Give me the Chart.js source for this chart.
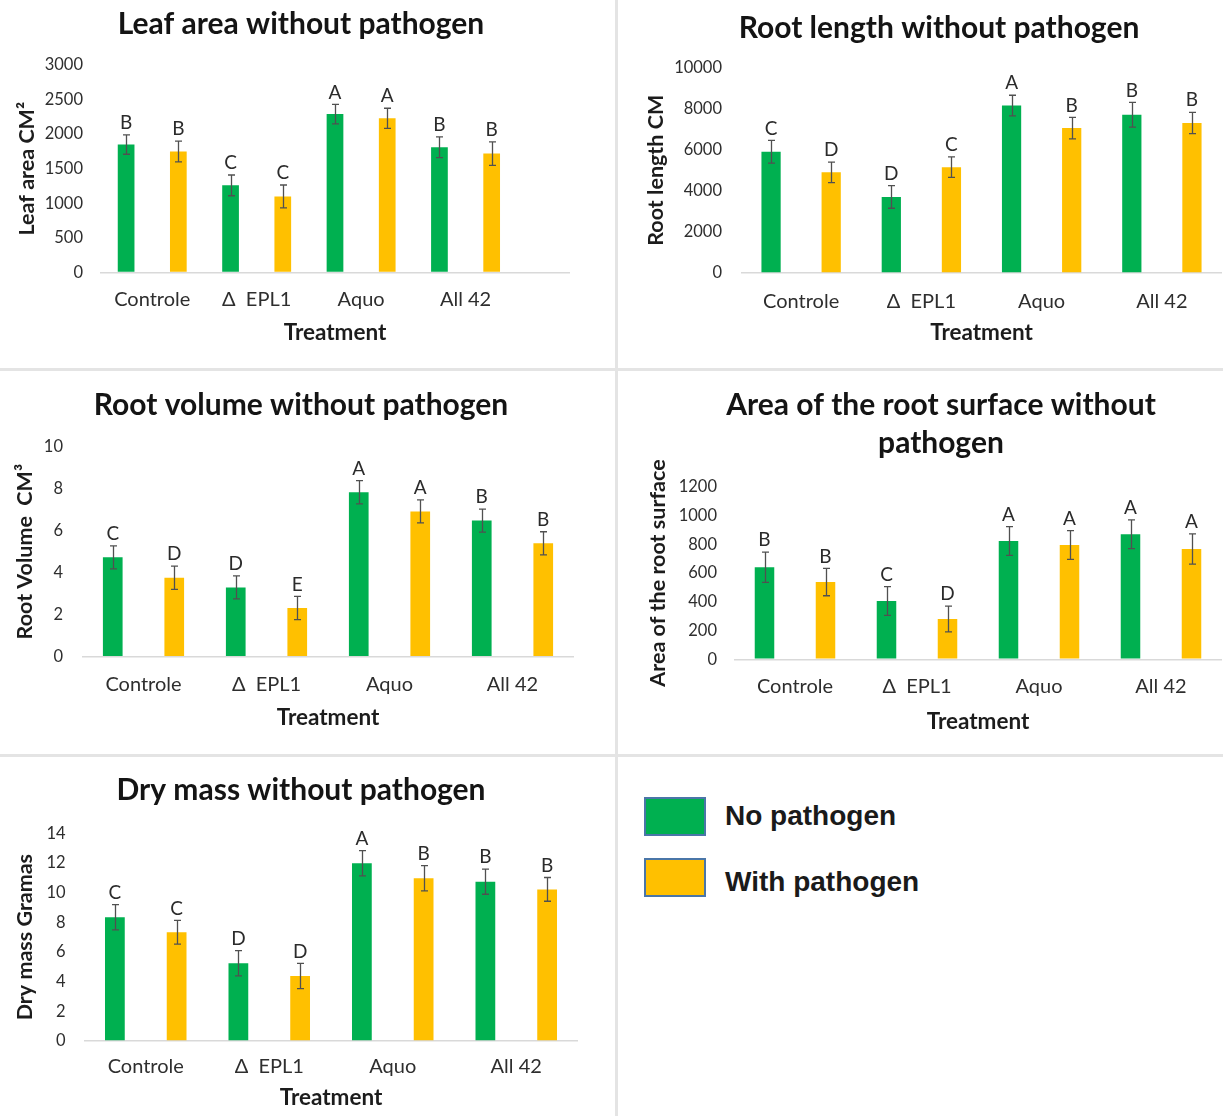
<!DOCTYPE html>
<html>
<head>
<meta charset="utf-8">
<script src="https://cdn.jsdelivr.net/npm/chart.js@4.4.1/dist/chart.umd.min.js"></script>
<style>
  html, body { margin: 0; padding: 0; background: #fff; width: 1223px; height: 1116px; overflow: hidden; }
  canvas { position: absolute; }
  .line { position: absolute; background: #e4e4e4; z-index: 5; }
  .sw { position: absolute; box-sizing: border-box; border: 2px solid #4a76a8; width: 62px; height: 39px; left: 644px; }
  .lt { position: absolute; left: 725px; font-family: "Liberation Sans", Arial, sans-serif; font-weight: bold; font-size: 28px; color: #1a1a1a; line-height: 34px; }
</style>
</head>
<body>
<canvas id="c1"></canvas>
<canvas id="c2"></canvas>
<canvas id="c3"></canvas>
<canvas id="c4"></canvas>
<canvas id="c5"></canvas>

<div class="line" style="left:615px;top:0;width:3px;height:1116px"></div>
<div class="line" style="left:0;top:368px;width:1223px;height:3px"></div>
<div class="line" style="left:0;top:754px;width:1223px;height:3px"></div>

<div class="sw" style="top:797px;background:#00b050"></div>
<div class="lt" style="top:799px">No pathogen</div>
<div class="sw" style="top:858px;background:#ffc000"></div>
<div class="lt" style="top:865px">With pathogen</div>

<script>
// ---------------- DATA ----------------
const categories = ['Controle', 'Δ  EPL1', 'Aquo', 'All 42'];
const seriesLabels = ['No pathogen', 'With pathogen'];
const xTitle = 'Treatment';

// Leaf area
const leafTitle = ['Leaf area without pathogen'];
const leafYTitle = 'Leaf area CM²';
const leafNo = [1850, 1260, 2290, 1810];
const leafWith = [1750, 1100, 2230, 1720];
const leafErrNo = [140, 150, 140, 150];
const leafErrWith = [150, 165, 145, 170];
const leafLetNo = ['B', 'C', 'A', 'B'];
const leafLetWith = ['B', 'C', 'A', 'B'];
const leafTicks = [0, 500, 1000, 1500, 2000, 2500, 3000];

// Root length
const lenTitle = ['Root length without pathogen'];
const lenYTitle = 'Root length CM';
const lenNo = [5900, 3700, 8150, 7700];
const lenWith = [4900, 5150, 7050, 7300];
const lenErrNo = [550, 550, 500, 600];
const lenErrWith = [500, 500, 520, 520];
const lenLetNo = ['C', 'D', 'A', 'B'];
const lenLetWith = ['D', 'C', 'B', 'B'];
const lenTicks = [0, 2000, 4000, 6000, 8000, 10000];

// Root volume
const volTitle = ['Root volume without pathogen'];
const volYTitle = 'Root Volume  CM³';
const volNo = [4.73, 3.30, 7.83, 6.48];
const volWith = [3.76, 2.32, 6.92, 5.40];
const volErrNo = [0.55, 0.55, 0.55, 0.55];
const volErrWith = [0.55, 0.55, 0.55, 0.55];
const volLetNo = ['C', 'D', 'A', 'B'];
const volLetWith = ['D', 'E', 'A', 'B'];
const volTicks = [0, 2, 4, 6, 8, 10];

// Root surface area
const surfTitle = ['Area of the root surface without', 'pathogen'];
const surfYTitle = 'Area of the root surface';
const surfNo = [640, 405, 822, 869];
const surfWith = [537, 280, 795, 767];
const surfErrNo = [105, 100, 100, 100];
const surfErrWith = [95, 90, 100, 105];
const surfLetNo = ['B', 'C', 'A', 'A'];
const surfLetWith = ['B', 'D', 'A', 'A'];
const surfTicks = [0, 200, 400, 600, 800, 1000, 1200];

// Dry mass
const dryTitle = ['Dry mass without pathogen'];
const dryYTitle = 'Dry mass Gramas';
const dryNo = [8.34, 5.24, 11.98, 10.74];
const dryWith = [7.33, 4.38, 10.97, 10.22];
const dryErrNo = [0.85, 0.85, 0.85, 0.85];
const dryErrWith = [0.8, 0.85, 0.85, 0.8];
const dryLetNo = ['C', 'D', 'A', 'B'];
const dryLetWith = ['C', 'D', 'B', 'B'];
const dryTicks = [0, 2, 4, 6, 8, 10, 12, 14];

// ---------------- STYLE / LAYOUT ----------------
const FONT = 'Lato, "Open Sans", sans-serif';
const COLORS = ['#00b050', '#ffc000'];
const SZ = { title: 30, yTitle: 21.5, tick: 16.5, xTick: 20, xTitle: 22.5, letter: 19 };

const layouts = {
  c1: { X0: 0,   Y0: 0,   W: 602, H: 367, l: 100, r: 570,  t: 65,    b: 272.5, titleCy: 24.5, titleLH: 36, yTickRight: 83,  yTitleCx: 27,  xTickCy: 300,   xTitleCy: 333,   xMax: 4.0 },
  c2: { X0: 617, Y0: 0,   W: 644, H: 367, l: 741, r: 1222, t: 67.5,  b: 273,   titleCy: 28,   titleLH: 36, yTickRight: 722, yTitleCx: 656, xTickCy: 302,   xTitleCy: 333,   xMax: 3.5 },
  c3: { X0: 0,   Y0: 371, W: 602, H: 383, l: 82,  r: 574,  t: 446.7, b: 656.7, titleCy: 405,  titleLH: 36, yTickRight: 63,  yTitleCx: 25,  xTickCy: 685,   xTitleCy: 718,   xMax: 3.5 },
  c4: { X0: 617, Y0: 371, W: 648, H: 383, l: 734, r: 1222, t: 486.7, b: 659.3, titleCy: 405,  titleLH: 38, yTickRight: 717, yTitleCx: 658, xTickCy: 686.7, xTitleCy: 721.7, xMax: 3.5 },
  c5: { X0: 0,   Y0: 757, W: 602, H: 359, l: 84,  r: 578,  t: 833.3, b: 1041,  titleCy: 790,  titleLH: 36, yTickRight: 65.6,yTitleCx: 25,  xTickCy: 1066.7,xTitleCy: 1098,  xMax: 3.5 }
};

const errorBarPlugin = {
  id: 'errorBars',
  afterDatasetsDraw(chart) {
    const ctx = chart.ctx;
    const yScale = chart.scales.y;
    ctx.save();
    chart.data.datasets.forEach((ds, di) => {
      const meta = chart.getDatasetMeta(di);
      meta.data.forEach((bar, i) => {
        const v = ds.data[i], e = ds.errors[i];
        const yTop = yScale.getPixelForValue(v + e);
        const yBot = yScale.getPixelForValue(v - e);
        const x = Math.round(bar.x) + 0.5;
        ctx.strokeStyle = '#505050';
        ctx.lineWidth = 1.3;
        ctx.beginPath();
        ctx.moveTo(x, yTop); ctx.lineTo(x, yBot);
        ctx.moveTo(x - 3.5, yTop); ctx.lineTo(x + 3.5, yTop);
        ctx.moveTo(x - 3.5, yBot); ctx.lineTo(x + 3.5, yBot);
        ctx.stroke();
        ctx.fillStyle = '#2b2b2b';
        ctx.font = SZ.letter + 'px ' + FONT;
        ctx.textAlign = 'center';
        ctx.textBaseline = 'middle';
        ctx.fillText(ds.letters[i], bar.x, yTop - 12);
      });
    });
    ctx.restore();
  }
};

function makeChart(id, d) {
  const g = layouts[id];
  const cv = document.getElementById(id);
  cv.width = g.W; cv.height = g.H;
  cv.style.left = g.X0 + 'px';
  cv.style.top = g.Y0 + 'px';
  const nTitle = d.title.length;
  const tPadTop = g.titleCy - g.Y0 - g.titleLH / 2;
  const tPadBottom = (g.t - g.Y0) - tPadTop - nTitle * g.titleLH;
  const yTitleLH = SZ.yTitle * 1.2;
  const xTickLH = SZ.xTick * 1.2;
  const xTitleLH = SZ.xTitle * 1.2;

  return new Chart(cv, {
    type: 'bar',
    data: {
      labels: categories.map((c, i) => i),
      datasets: [
        { label: seriesLabels[0], data: d.no, errors: d.errNo, letters: d.letNo, backgroundColor: COLORS[0] },
        { label: seriesLabels[1], data: d.with, errors: d.errWith, letters: d.letWith, backgroundColor: COLORS[1] }
      ]
    },
    options: {
      responsive: false,
      animation: false,
      events: [],
      barPercentage: 0.32,
      categoryPercentage: 1.0,
      layout: { padding: 0 },
      plugins: {
        legend: { display: false },
        tooltip: { enabled: false },
        title: {
          display: true,
          text: d.title,
          color: '#141414',
          font: { family: FONT, size: SZ.title, weight: 'bold', lineHeight: g.titleLH / SZ.title },
          padding: { top: tPadTop, bottom: tPadBottom }
        }
      },
      scales: {
        x: {
          type: 'linear',
          offset: false,
          min: -0.5,
          max: g.xMax,
          afterBuildTicks: s => { s.ticks = categories.map((c, i) => ({ value: i })); },
          afterFit: s => { s.height = g.Y0 + g.H - g.b; },
          grid: { display: false, drawTicks: false },
          border: { display: false },
          ticks: {
            autoSkip: false, maxRotation: 0, minRotation: 0,
            padding: g.xTickCy - g.b - xTickLH / 2,
            color: '#2e2e2e',
            font: { family: FONT, size: SZ.xTick, lineHeight: 1.2 },
            callback: v => categories[v]
          },
          title: {
            display: true, text: xTitle, color: '#1c1c1c',
            font: { family: FONT, size: SZ.xTitle, weight: 'bold', lineHeight: 1.2 },
            padding: { top: 0, bottom: g.Y0 + g.H - g.xTitleCy - xTitleLH / 2 }
          }
        },
        y: {
          type: 'linear',
          min: d.ticks[0],
          max: d.ticks[d.ticks.length - 1],
          afterBuildTicks: s => { s.ticks = d.ticks.map(v => ({ value: v })); },
          afterFit: s => { s.width = g.l - g.X0; },
          grid: {
            drawTicks: false,
            lineWidth: 1.5,
            color: c => (c.tick && c.tick.value === 0) ? '#d9d9d9' : 'rgba(0,0,0,0)'
          },
          border: { display: false },
          ticks: {
            padding: g.l - g.yTickRight,
            color: '#2e2e2e',
            font: { family: FONT, size: SZ.tick },
            callback: v => String(v)
          },
          title: {
            display: true, text: d.yTitle, color: '#1c1c1c',
            font: { family: FONT, size: SZ.yTitle, weight: 'bold', lineHeight: 1.2 },
            padding: { top: g.yTitleCx - g.X0 - yTitleLH / 2, bottom: 0 }
          }
        },
        yR: {
          type: 'linear',
          position: 'right',
          display: true,
          afterFit: s => { s.width = g.X0 + g.W - g.r; },
          grid: { display: false, drawTicks: false },
          border: { display: false },
          ticks: { display: false }
        }
      }
    },
    plugins: [errorBarPlugin]
  });
}

makeChart('c1', { title: leafTitle, yTitle: leafYTitle, no: leafNo, with: leafWith, errNo: leafErrNo, errWith: leafErrWith, letNo: leafLetNo, letWith: leafLetWith, ticks: leafTicks });
makeChart('c2', { title: lenTitle, yTitle: lenYTitle, no: lenNo, with: lenWith, errNo: lenErrNo, errWith: lenErrWith, letNo: lenLetNo, letWith: lenLetWith, ticks: lenTicks });
makeChart('c3', { title: volTitle, yTitle: volYTitle, no: volNo, with: volWith, errNo: volErrNo, errWith: volErrWith, letNo: volLetNo, letWith: volLetWith, ticks: volTicks });
makeChart('c4', { title: surfTitle, yTitle: surfYTitle, no: surfNo, with: surfWith, errNo: surfErrNo, errWith: surfErrWith, letNo: surfLetNo, letWith: surfLetWith, ticks: surfTicks });
makeChart('c5', { title: dryTitle, yTitle: dryYTitle, no: dryNo, with: dryWith, errNo: dryErrNo, errWith: dryErrWith, letNo: dryLetNo, letWith: dryLetWith, ticks: dryTicks });
</script>
</body>
</html>
